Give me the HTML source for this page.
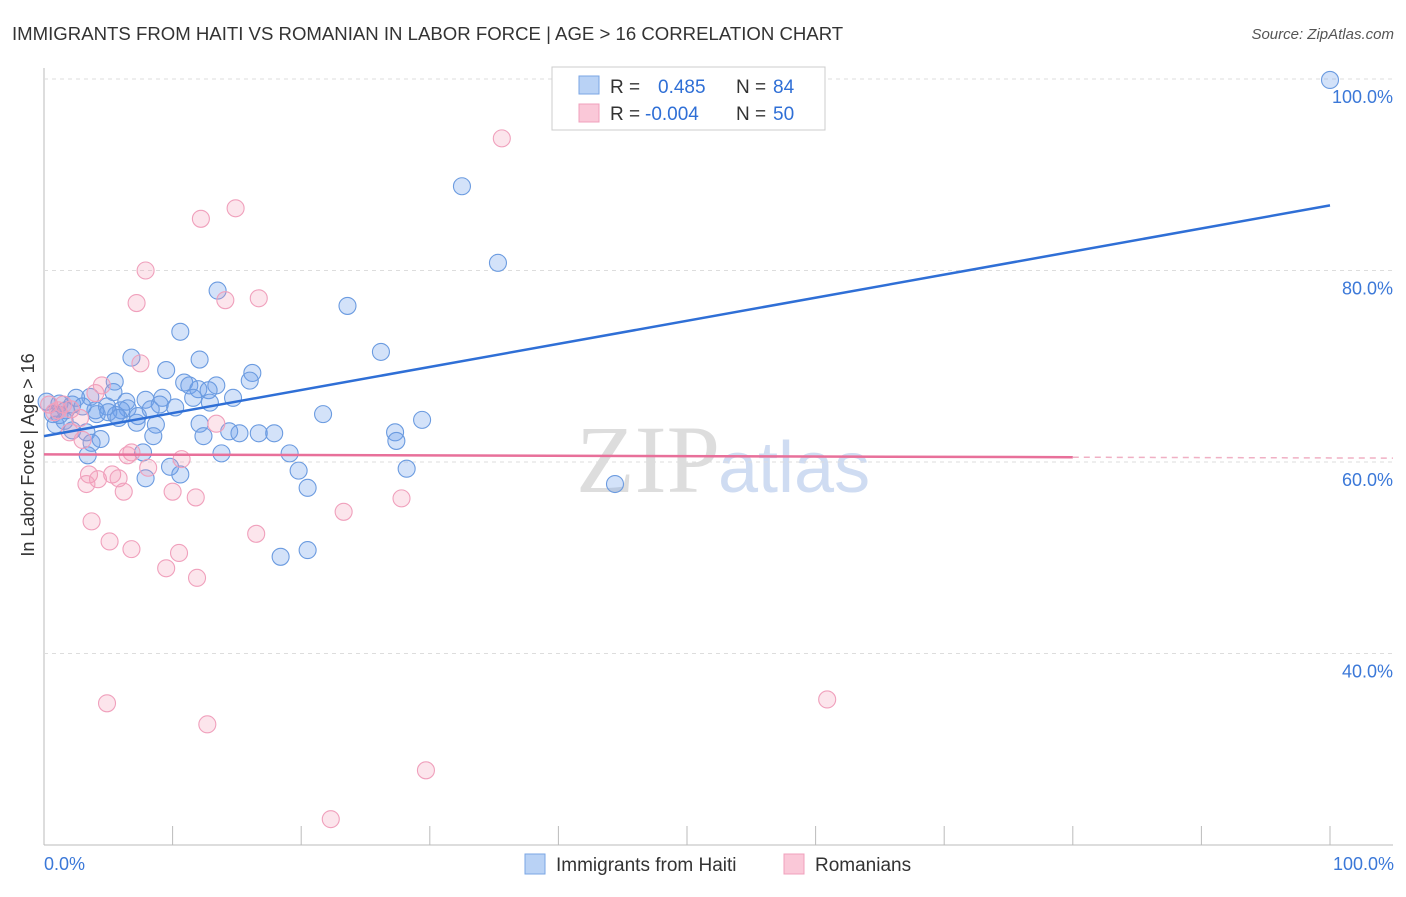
<!DOCTYPE html>
<html><head><meta charset="utf-8"><style>
body{margin:0;background:#fff;font-family:"Liberation Sans",sans-serif;}
</style></head><body>
<svg id="c" width="1406" height="892" xmlns="http://www.w3.org/2000/svg">
<text x="12" y="40" font-size="18.6" fill="#333">IMMIGRANTS FROM HAITI VS ROMANIAN IN LABOR FORCE | AGE &gt; 16 CORRELATION CHART</text>
<text x="1394" y="39" font-size="15" fill="#555" text-anchor="end" font-style="italic">Source: ZipAtlas.com</text>
<text x="720" y="492" font-size="96" fill="#ddd" text-anchor="end" font-family="Liberation Serif">ZIP</text>
<text x="718" y="492" font-size="72" fill="#cfdcf2">atlas</text>
<text transform="translate(34,455) rotate(-90)" font-size="18" fill="#333" text-anchor="middle">In Labor Force | Age &gt; 16</text>
<g id="grid"></g><g id="pts"></g><g id="lines"></g>
<g>
<rect x="552" y="67" width="273" height="63" fill="#fff" stroke="#ccc"/>
<rect x="579" y="76" width="20" height="18" fill="#b9d2f5" stroke="#7aa6e4"/>
<rect x="579" y="104" width="20" height="18" fill="#fac8d8" stroke="#f0a0bc"/>
<text x="610" y="93" font-size="19" fill="#333">R = </text><text x="658" y="93" font-size="19" fill="#2f6fd6">0.485</text>
<text x="736" y="93" font-size="19" fill="#333">N = </text><text x="773" y="93" font-size="19" fill="#2f6fd6">84</text>
<text x="610" y="120" font-size="19" fill="#333">R = </text><text x="645" y="120" font-size="19" fill="#2f6fd6">-0.004</text>
<text x="736" y="120" font-size="19" fill="#333">N = </text><text x="773" y="120" font-size="19" fill="#2f6fd6">50</text>
</g>
<g>
<rect x="525" y="854" width="20" height="20" fill="#b9d2f5" stroke="#7aa6e4"/>
<text x="556" y="871" font-size="19" fill="#333">Immigrants from Haiti</text>
<rect x="784" y="854" width="20" height="20" fill="#fac8d8" stroke="#f0a0bc"/>
<text x="815" y="871" font-size="19" fill="#333">Romanians</text>
</g>
<text x="44" y="870" font-size="18" fill="#3b78d8">0.0%</text>
<text x="1394" y="870" font-size="18" fill="#3b78d8" text-anchor="end">100.0%</text>
</svg>
<script>
const yTicks=[100,80,60,40];
const yTickLabels=["100.0%","80.0%","60.0%","40.0%"];
const xTicks=[0,10,20,30,40,50,60,70,80,90,100];
const haitiX=[100,32.5,35.3,13.5,23.6,10.6,26.2,6.8,12.1,9.5,16.2,16.0,5.5,10.9,11.3,13.4,12.0,12.8,5.4,3.6,2.5,9.2,14.7,11.6,7.9,6.4,0.2,1.2,12.9,2.2,4.9,9.0,10.2,6.5,8.3,4.0,6.0,4.1,5.6,0.7,5.0,7.3,21.7,5.8,29.4,1.6,7.2,8.7,12.1,2.2,0.9,3.3,14.4,15.2,16.7,17.9,27.3,8.5,12.4,4.4,3.7,27.4,7.7,13.8,19.1,3.4,9.8,19.8,28.2,10.6,7.9,20.5,44.4,20.5,18.4,1.7,3.0,1.2];
const haitiY=[99.9,88.8,80.8,77.9,76.3,73.6,71.5,70.9,70.7,69.6,69.3,68.5,68.4,68.3,68.0,68.0,67.6,67.5,67.3,66.8,66.7,66.7,66.7,66.7,66.5,66.3,66.3,66.1,66.2,66.0,65.8,66.0,65.7,65.6,65.5,65.4,65.4,65.0,64.9,65.0,65.2,64.8,65.0,64.6,64.4,64.3,64.1,63.9,64.0,63.3,63.9,63.1,63.2,63.0,63.0,63.0,63.1,62.7,62.7,62.4,62.0,62.2,61.0,60.9,60.9,60.7,59.5,59.1,59.3,58.7,58.3,57.3,57.7,50.8,50.1,65.4,65.8,64.9];
const romX=[54.1,35.6,14.9,12.2,7.9,16.7,7.2,14.1,7.5,4.5,4.0,0.4,2.1,2.8,13.4,2.0,3.0,6.8,6.5,10.7,8.1,3.5,5.3,5.8,4.2,3.3,6.2,10.0,11.8,27.8,23.3,3.7,16.5,5.1,6.8,10.5,9.5,11.9,60.9,4.9,12.7,29.7,22.3,1.1,1.5,0.8];
const romY=[99.9,93.8,86.5,85.4,80.0,77.1,76.6,76.9,70.3,68.0,67.2,66.0,65.5,64.6,64.0,63.1,62.3,61.0,60.7,60.3,59.4,58.7,58.7,58.3,58.2,57.7,56.9,56.9,56.3,56.2,54.8,53.8,52.5,51.7,50.9,50.5,48.9,47.9,35.2,34.8,32.6,27.8,22.7,65.4,66.0,65.2];
const haitiTrend=[62.7,86.8];
const romTrend=[60.8,60.5];
const X=v=>44+v*12.86, Y=v=>79+(100-v)*9.575;
const NS="http://www.w3.org/2000/svg";
function mk(t,a,p){const e=document.createElementNS(NS,t);for(const k in a)e.setAttribute(k,a[k]);p.appendChild(e);return e;}
const g=document.getElementById('grid');
mk('line',{x1:44,y1:68,x2:44,y2:845,stroke:'#bbb'},g);
mk('line',{x1:44,y1:845,x2:1393,y2:845,stroke:'#bbb'},g);
yTicks.forEach((t,i)=>{
 const l=mk('line',{x1:44,y1:Y(t),x2:1393,y2:Y(t),stroke:'#ddd','stroke-dasharray':'4,4'},g);
 
 
 const tx=mk('text',{x:1393,y:Y(t)+24,'font-size':18,fill:'#3b78d8','text-anchor':'end'},g);
 tx.textContent=yTickLabels[i];
 
 
});
xTicks.forEach(t=>{
 const l=mk('line',{x1:X(t),y1:826,x2:X(t),y2:845,stroke:'#bbb'},g);
 
 
});
const p=document.getElementById('pts');
haitiX.forEach((x,i)=>{
 const c=mk('circle',{cx:X(x),cy:Y(haitiY[i]),r:8.5,fill:'rgba(110,160,235,0.3)',stroke:'#6b9be0','stroke-width':1.1},p);
 
 
});
romX.forEach((x,i)=>{
 const c=mk('circle',{cx:X(x),cy:Y(romY[i]),r:8.5,fill:'rgba(245,150,180,0.25)',stroke:'#f0a0bc','stroke-width':1.1},p);
 
 
});
const L=document.getElementById('lines');
const b=mk('line',{x1:X(0),y1:Y(haitiTrend[0]),x2:X(100),y2:Y(haitiTrend[1]),stroke:'#2f6fd6','stroke-width':2.5},L);


const r=mk('line',{x1:X(0),y1:Y(romTrend[0]),x2:X(80),y2:Y(romTrend[1]),stroke:'#e8709a','stroke-width':2.5},L);


const rd=mk('line',{x1:X(80),y1:Y(romTrend[1]),x2:1393,y2:Y(romTrend[1]+(romTrend[1]-romTrend[0])/80*25),stroke:'#f0b0c4','stroke-width':1.5,'stroke-dasharray':'6,5'},L);


</script>
</body></html>
